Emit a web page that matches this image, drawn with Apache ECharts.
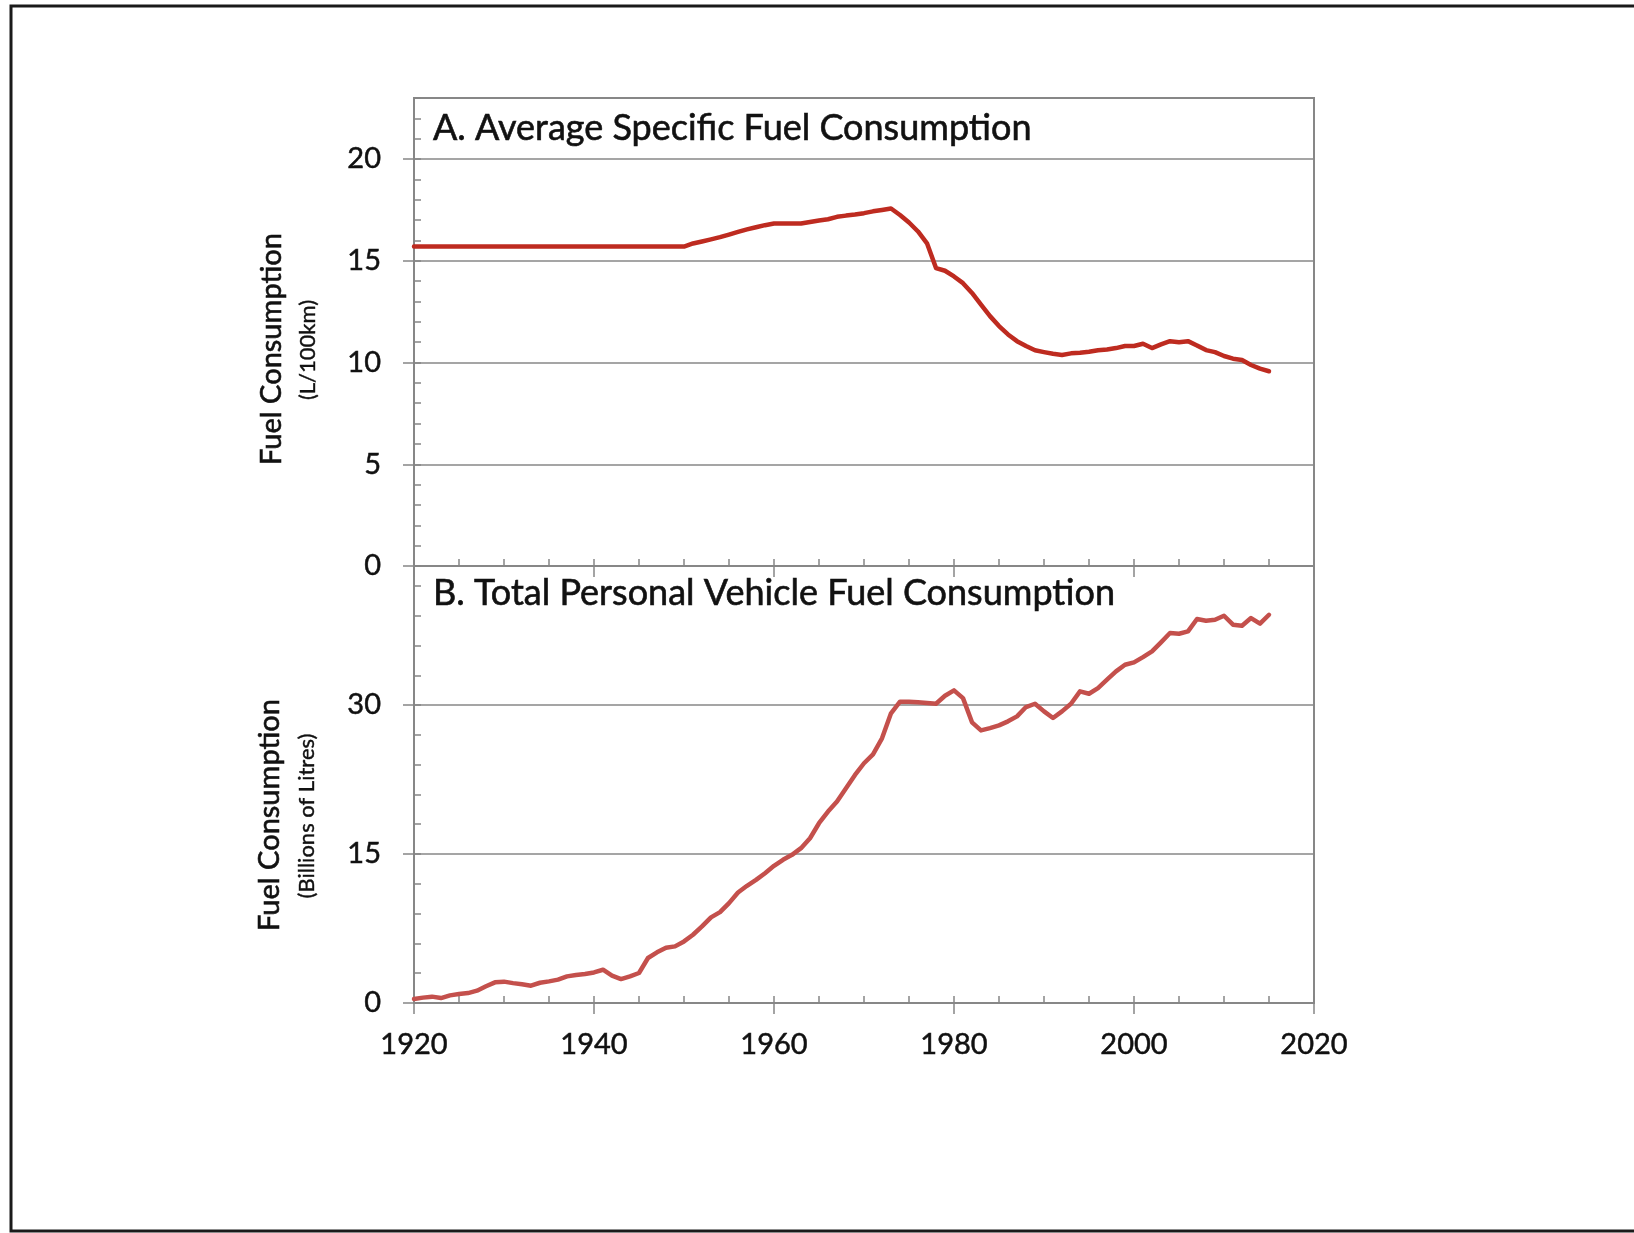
<!DOCTYPE html>
<html>
<head>
<meta charset="utf-8">
<title>Fuel Consumption</title>
<script src="https://cdn.jsdelivr.net/npm/echarts@6/dist/echarts.min.js"></script>
<style>
  html, body { margin: 0; padding: 0; background: #ffffff; }
  #chart { width: 1634px; height: 1233px; }
</style>
</head>
<body>
<div id="chart"></div>
<script>
// Years shared by both panels
const years = [
  1920, 1921, 1922, 1923, 1924, 1925, 1926, 1927, 1928, 1929,
  1930, 1931, 1932, 1933, 1934, 1935, 1936, 1937, 1938, 1939,
  1940, 1941, 1942, 1943, 1944, 1945, 1946, 1947, 1948, 1949,
  1950, 1951, 1952, 1953, 1954, 1955, 1956, 1957, 1958, 1959,
  1960, 1961, 1962, 1963, 1964, 1965, 1966, 1967, 1968, 1969,
  1970, 1971, 1972, 1973, 1974, 1975, 1976, 1977, 1978, 1979,
  1980, 1981, 1982, 1983, 1984, 1985, 1986, 1987, 1988, 1989,
  1990, 1991, 1992, 1993, 1994, 1995, 1996, 1997, 1998, 1999,
  2000, 2001, 2002, 2003, 2004, 2005, 2006, 2007, 2008, 2009,
  2010, 2011, 2012, 2013, 2014, 2015
];

// A. Average specific fuel consumption (L/100km)
const specificFuel = [
  15.7, 15.7, 15.7, 15.7, 15.7, 15.7, 15.7, 15.7, 15.7, 15.7,
  15.7, 15.7, 15.7, 15.7, 15.7, 15.7, 15.7, 15.7, 15.7, 15.7,
  15.7, 15.7, 15.7, 15.7, 15.7, 15.7, 15.7, 15.7, 15.7, 15.7,
  15.7, 15.85, 15.95, 16.05, 16.16, 16.29, 16.42, 16.54, 16.65, 16.75,
  16.83, 16.83, 16.83, 16.83, 16.91, 16.98, 17.04, 17.16, 17.22, 17.27,
  17.34, 17.43, 17.5, 17.57, 17.25, 16.88, 16.44, 15.86, 14.64, 14.51,
  14.23, 13.9, 13.42, 12.85, 12.28, 11.79, 11.38, 11.05, 10.81, 10.6,
  10.51, 10.43, 10.37, 10.45, 10.48, 10.53, 10.6, 10.64, 10.71, 10.81,
  10.81, 10.92, 10.71, 10.89, 11.05, 11.0, 11.05, 10.84, 10.61, 10.51,
  10.32, 10.19, 10.12, 9.88, 9.7, 9.57
];

// B. Total personal vehicle fuel consumption (billions of litres)
const totalFuel = [
  0.4, 0.54, 0.64, 0.5, 0.77, 0.91, 1.0, 1.24, 1.68, 2.08,
  2.15, 2.0, 1.88, 1.74, 2.04, 2.18, 2.35, 2.68, 2.82, 2.92,
  3.08, 3.35, 2.75, 2.41, 2.68, 3.02, 4.53, 5.1, 5.56, 5.7,
  6.2, 6.87, 7.71, 8.62, 9.15, 10.06, 11.13, 11.8, 12.4, 13.07,
  13.81, 14.42, 14.92, 15.59, 16.59, 18.1, 19.28, 20.28, 21.62, 22.96,
  24.14, 25.04, 26.65, 29.17, 30.34, 30.34, 30.27, 30.2, 30.13, 30.94,
  31.48, 30.7, 28.26, 27.45, 27.68, 27.95, 28.36, 28.86, 29.8, 30.13,
  29.36, 28.69, 29.36, 30.13, 31.38, 31.14, 31.71, 32.55, 33.39, 34.06,
  34.3, 34.83, 35.4, 36.31, 37.25, 37.18, 37.42, 38.66, 38.49, 38.59,
  38.99, 38.09, 37.99, 38.76, 38.19, 39.09
];

// Axis labels
const yTicksA = [0, 5, 10, 15, 20];
const yTicksB = [0, 15, 30];
const titleA = 'A. Average Specific Fuel Consumption';
const titleB = 'B. Total Personal Vehicle Fuel Consumption';
const yNameMain = 'Fuel Consumption';
const yUnitA = '(L/100km)';
const yUnitB = '(Billions of Litres)';

const FONT = 'Lato';
const AXIS_GREY = '#878787';
const TEXT = '#111111';

const chart = echarts.init(document.getElementById('chart'), null, { renderer: 'canvas' });

const gridA = { left: 414, top: 98, width: 900, height: 468 };
const gridB = { left: 414, top: 566, width: 900, height: 437 };

// shared text look: a hairline outline gives the glyphs a little more weight
const labelText = { color: TEXT, fontFamily: FONT, fontSize: 29, textBorderColor: TEXT, textBorderWidth: 0.5 };

function xMain(gridIndex, showLabels) {
  return {
    type: 'value', gridIndex, position: 'bottom',
    min: 1920, max: 2020, interval: 20,
    axisLine: { show: true, onZero: false, lineStyle: { color: AXIS_GREY, width: 2 } },
    axisTick: { show: true, inside: false, length: 11, lineStyle: { color: AXIS_GREY, width: 1.5 } },
    axisLabel: Object.assign({ show: showLabels, margin: 27, formatter: v => String(v) }, labelText),
    splitLine: { show: false }
  };
}
function xMinor(gridIndex) {
  return {
    type: 'value', gridIndex, position: 'bottom',
    min: 1920, max: 2020, interval: 5,
    axisLine: { show: false, onZero: false },
    axisTick: { show: true, inside: true, length: 7, lineStyle: { color: AXIS_GREY, width: 1.5 } },
    axisLabel: { show: false },
    splitLine: { show: false }
  };
}
function yMain(gridIndex, max, interval, ticks) {
  return {
    type: 'value', gridIndex, position: 'left',
    min: 0, max, interval,
    axisLine: { show: true, onZero: false, lineStyle: { color: AXIS_GREY, width: 2 } },
    axisTick: { show: true, inside: false, length: 11, customValues: ticks,
      lineStyle: { color: AXIS_GREY, width: 1.5 } },
    axisLabel: Object.assign({
      show: true, margin: 33, customValues: ticks,
      formatter: v => (ticks.indexOf(v) >= 0 ? String(v) : '')
    }, labelText),
    splitLine: { show: true, lineStyle: { color: AXIS_GREY, width: 1.5 } }
  };
}
function yMinor(gridIndex, max, interval) {
  return {
    type: 'value', gridIndex, position: 'left',
    min: 0, max, interval,
    axisLine: { show: false, onZero: false },
    axisTick: { show: true, inside: true, length: 7, lineStyle: { color: AXIS_GREY, width: 1.5 } },
    axisLabel: { show: false },
    splitLine: { show: false }
  };
}

function textEl(x, y, text, size, rotated, align) {
  return {
    type: 'text', x, y, rotation: rotated ? Math.PI / 2 : 0, z: 50,
    style: {
      text, fill: TEXT, font: size + 'px ' + FONT,
      stroke: TEXT, lineWidth: size > 25 ? 0.6 : 0.4,
      textAlign: align, textVerticalAlign: 'middle'
    }
  };
}

const option = {
  animation: false,
  backgroundColor: '#ffffff',
  grid: [
    Object.assign({ show: true, borderColor: AXIS_GREY, borderWidth: 2, backgroundColor: 'transparent' }, gridA),
    Object.assign({ show: true, borderColor: AXIS_GREY, borderWidth: 2, backgroundColor: 'transparent' }, gridB)
  ],
  xAxis: [xMain(0, false), xMinor(0), xMain(1, true), xMinor(1)],
  yAxis: [yMain(0, 23, 5, yTicksA), yMinor(0, 23, 1), yMain(1, 44, 15, yTicksB), yMinor(1, 44, 3)],
  series: [
    {
      name: titleA, type: 'line', xAxisIndex: 0, yAxisIndex: 0,
      data: years.map((y, i) => [y, specificFuel[i]]),
      showSymbol: false, symbol: 'none', smooth: false,
      lineStyle: { color: '#BE2B20', width: 4.5, cap: 'round', join: 'round' },
      z: 5
    },
    {
      name: titleB, type: 'line', xAxisIndex: 2, yAxisIndex: 2,
      data: years.map((y, i) => [y, totalFuel[i]]),
      showSymbol: false, symbol: 'none', smooth: false,
      lineStyle: { color: '#C4504C', width: 4.5, cap: 'round', join: 'round' },
      z: 5
    }
  ],
  graphic: [
    // outer frame
    { type: 'rect', shape: { x: 11, y: 6, width: 1700, height: 1225 },
      style: { fill: 'none', stroke: '#1a1a1a', lineWidth: 3 }, z: 100 },
    // panel titles
    textEl(433, 128, titleA, 36, false, 'left'),
    textEl(433, 593, titleB, 36, false, 'left'),
    // axis names, panel A
    textEl(272, 349, yNameMain, 29, true, 'center'),
    textEl(308, 350, yUnitA, 22, true, 'center'),
    // axis names, panel B
    textEl(270, 815, yNameMain, 29, true, 'center'),
    textEl(307, 816, yUnitB, 22, true, 'center')
  ]
};

chart.setOption(option);
</script>
</body>
</html>
